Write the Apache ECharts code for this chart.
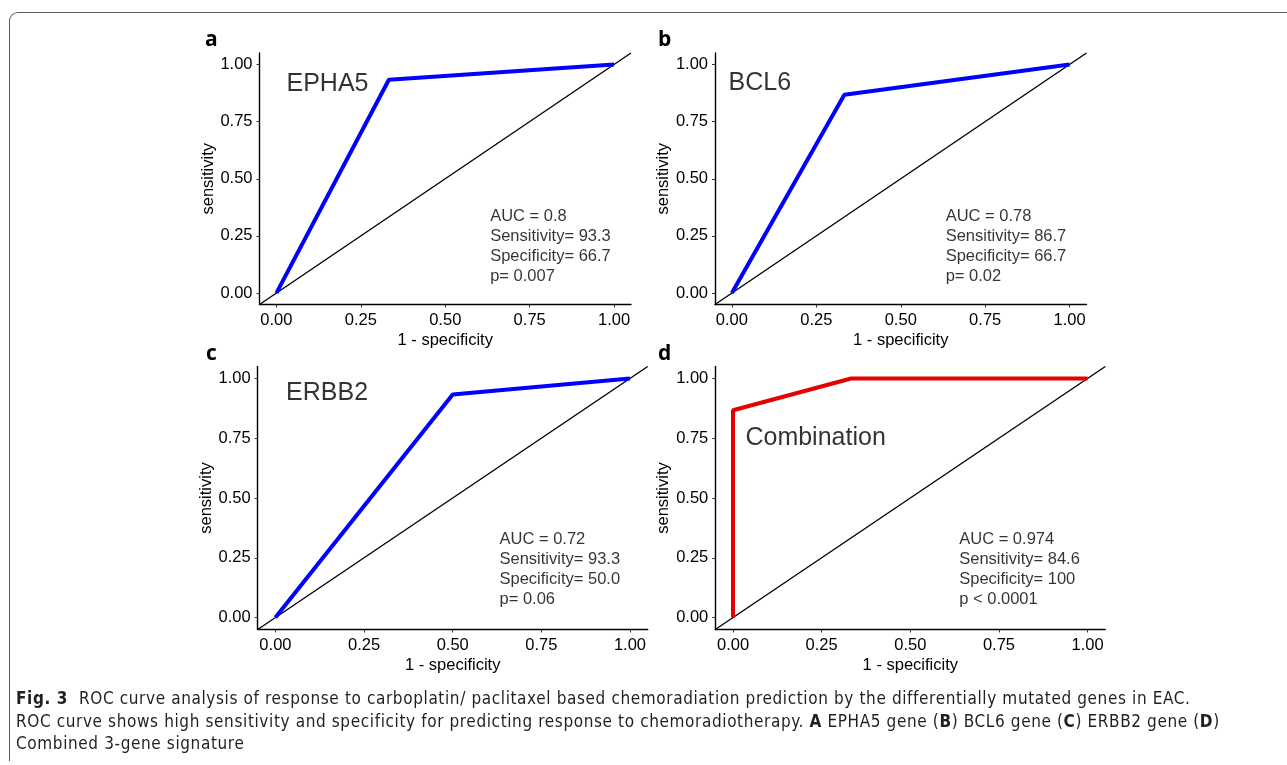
<!DOCTYPE html>
<html>
<head>
<meta charset="utf-8">
<script src="https://cdn.jsdelivr.net/npm/echarts@6/dist/echarts.min.js"></script>
<style>
  html, body { margin: 0; padding: 0; background: #fff; }
  .fig { position: relative; width: 1287px; height: 765px; overflow: hidden; }
  .frame {
    position: absolute; left: 9px; top: 12px; right: -10px; bottom: 4px;
    border-top: 1.5px solid #5c5c5c; border-left: 1.5px solid #5c5c5c;
    border-top-left-radius: 9px;
  }
  #roc-chart { position: absolute; left: 0; top: 0; width: 1287px; height: 765px; }
  .caption {
    position: absolute; left: 16px; top: 687px; width: 1270px;
    font-family: "DejaVu Sans Condensed", "Liberation Sans Narrow", sans-serif;
    font-stretch: condensed;
    font-size: 17px; line-height: 22.5px; letter-spacing: 0.62px; color: #231f20;
    white-space: nowrap;
  }
  .caption b { font-weight: bold; }
</style>
</head>
<body>
<div class="fig">
  <div class="frame"></div>
  <div id="roc-chart"></div>
  <div class="caption">
    <b>Fig. 3</b>&nbsp; ROC curve analysis of response to carboplatin/ paclitaxel based chemoradiation prediction by the differentially mutated genes in EAC.<br>
    ROC curve shows high sensitivity and specificity for predicting response to chemoradiotherapy. <b>A</b> EPHA5 gene (<b>B</b>) BCL6 gene (<b>C</b>) ERBB2 gene (<b>D</b>)<br>
    Combined 3-gene signature
  </div>
</div>
<script>
// ROC points (1 - specificity, sensitivity)
const ephaX = [0, 0.333, 1]
const ephaY = [0, 0.933, 1]
const bclX = [0, 0.333, 1]
const bclY = [0, 0.867, 1]
const erbbX = [0, 0.5, 1]
const erbbY = [0, 0.933, 1]
const combX = [0, 0, 0.333, 1]
const combY = [0, 0.867, 1, 1]

const tickValues = [0, 0.25, 0.5, 0.75, 1]
const panelLetters = ['a', 'b', 'c', 'd']
const geneNames = ['EPHA5', 'BCL6', 'ERBB2', 'Combination']
const statLines = [
  ['AUC = 0.8', 'Sensitivity= 93.3', 'Specificity= 66.7', 'p= 0.007'],
  ['AUC = 0.78', 'Sensitivity= 86.7', 'Specificity= 66.7', 'p= 0.02'],
  ['AUC = 0.72', 'Sensitivity= 93.3', 'Specificity= 50.0', 'p= 0.06'],
  ['AUC = 0.974', 'Sensitivity= 84.6', 'Specificity= 100', 'p < 0.0001'],
]

const rocX = [ephaX, bclX, erbbX, combX]
const rocY = [ephaY, bclY, erbbY, combY]
const rocColors = ['#0000ff', '#0000ff', '#0000ff', '#e60000']

// layout of the 2x2 panels
const grids = [
  { left: 259.5, top: 53, width: 371.5, height: 251.5 },
  { left: 715, top: 53, width: 371.5, height: 251.5 },
  { left: 257.7, top: 366.5, width: 390, height: 263 },
  { left: 715.3, top: 366.5, width: 390, height: 263 },
]
const namePos = [[0.03, 0.913], [-0.01, 0.917], [0.03, 0.94], [0.035, 0.75]]
const statPos = [[0.633, 0.203], [0.633, 0.203], [0.632, 0.203], [0.638, 0.203]]
const letterPos = [[205, 30], [658, 30], [206, 344], [658, 344]]

const font = '"Liberation Sans", Arial, sans-serif'

function axisCommon(name, gap, margin) {
  return {
    type: 'value',
    min: -0.05,
    max: 1.05,
    name: name,
    nameLocation: 'middle',
    nameGap: gap,
    nameTextStyle: { fontFamily: font, fontSize: 16.5, color: '#000' },
    axisLine: { show: true, onZero: false, lineStyle: { color: '#000', width: 1.4 } },
    axisTick: { show: true, length: 3, customValues: tickValues, lineStyle: { color: '#333' } },
    axisLabel: {
      customValues: tickValues,
      fontFamily: font,
      fontSize: 16.5,
      color: '#000',
      margin: margin,
      formatter: v => v.toFixed(2),
    },
    splitLine: { show: false },
  }
}

const myChart = echarts.init(document.getElementById('roc-chart'))
const xAxes = []
const yAxes = []
const series = []
grids.forEach((g, i) => {
  xAxes.push(Object.assign(axisCommon('1 - specificity', 27, 7), { gridIndex: i }))
  yAxes.push(Object.assign(axisCommon('sensitivity', 41, 7), { gridIndex: i }))
  // chance line across the whole panel
  series.push({
    type: 'line',
    xAxisIndex: i,
    yAxisIndex: i,
    data: [[-0.05, -0.05], [1.05, 1.05]],
    symbol: 'none',
    lineStyle: { color: '#000', width: 1.4 },
    silent: true,
  })
  series.push({
    type: 'line',
    xAxisIndex: i,
    yAxisIndex: i,
    data: rocX[i].map((x, k) => [x, rocY[i][k]]),
    symbol: 'none',
    lineStyle: { color: rocColors[i], width: 4 },
    z: 3,
  })
  series.push({
    type: 'scatter',
    xAxisIndex: i,
    yAxisIndex: i,
    symbolSize: 0,
    data: [namePos[i]],
    label: {
      show: true,
      position: 'right',
      distance: 0,
      formatter: geneNames[i],
      fontFamily: font,
      fontSize: 25,
      color: '#000',
    },
    silent: true,
  })
  series.push({
    type: 'scatter',
    xAxisIndex: i,
    yAxisIndex: i,
    symbolSize: 0,
    data: [statPos[i]],
    label: {
      show: true,
      position: 'right',
      distance: 0,
      formatter: statLines[i].join('\n'),
      fontFamily: font,
      fontSize: 16.5,
      lineHeight: 20,
      color: '#000',
    },
    silent: true,
  })
})

const option = {
  animation: false,
  grid: grids,
  xAxis: xAxes,
  yAxis: yAxes,
  series: series,
  graphic: panelLetters.map((t, i) => ({
    type: 'text',
    left: letterPos[i][0],
    top: letterPos[i][1],
    style: {
      text: t,
      fontFamily: '"Open Sans", sans-serif',
      fontWeight: 'bold',
      fontSize: 21,
      fill: '#000',
    },
  })),
}
myChart.setOption(option)
</script>
</body>
</html>
